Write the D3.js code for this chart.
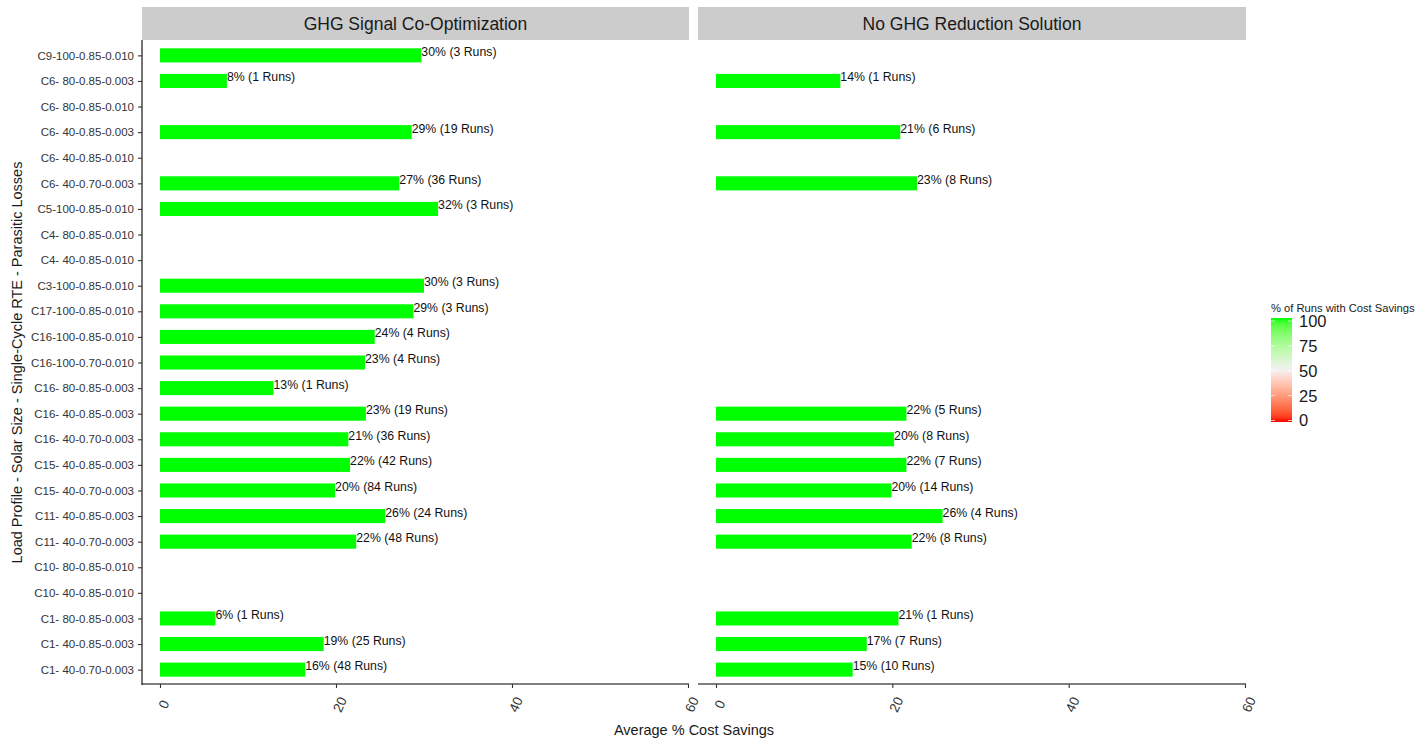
<!DOCTYPE html>
<html>
<head>
<meta charset="utf-8">
<script src="https://cdn.jsdelivr.net/npm/d3@7/dist/d3.min.js"></script>
<style>
  html, body { margin: 0; padding: 0; background: #ffffff; }
  svg { display: block; font-family: "Liberation Sans", Arial, sans-serif; }
</style>
</head>
<body>
<svg id="chart" width="1418" height="744"></svg>
<script>
// ---------------- DATA ----------------
const categories = [
  "C9-100-0.85-0.010",
  "C6- 80-0.85-0.003",
  "C6- 80-0.85-0.010",
  "C6- 40-0.85-0.003",
  "C6- 40-0.85-0.010",
  "C6- 40-0.70-0.003",
  "C5-100-0.85-0.010",
  "C4- 80-0.85-0.010",
  "C4- 40-0.85-0.010",
  "C3-100-0.85-0.010",
  "C17-100-0.85-0.010",
  "C16-100-0.85-0.010",
  "C16-100-0.70-0.010",
  "C16- 80-0.85-0.003",
  "C16- 40-0.85-0.003",
  "C16- 40-0.70-0.003",
  "C15- 40-0.85-0.003",
  "C15- 40-0.70-0.003",
  "C11- 40-0.85-0.003",
  "C11- 40-0.70-0.003",
  "C10- 80-0.85-0.010",
  "C10- 40-0.85-0.010",
  "C1- 80-0.85-0.003",
  "C1- 40-0.85-0.003",
  "C1- 40-0.70-0.003"
];
const panelTitles = ["GHG Signal Co-Optimization", "No GHG Reduction Solution"];

// Average % cost savings (null = no bar)
const ghgSavings = [29.7, 7.6, null, 28.6, null, 27.2, 31.6, null, null, 30.0, 28.8, 24.4, 23.3, 12.9,
                    23.4, 21.4, 21.6, 19.9, 25.6, 22.3, null, null, 6.3, 18.6, 16.5];
const ghgLabelPct = [30, 8, null, 29, null, 27, 32, null, null, 30, 29, 24, 23, 13,
                    23, 21, 22, 20, 26, 22, null, null, 6, 19, 16];
const ghgRuns    = [3, 1, null, 19, null, 36, 3, null, null, 3, 3, 4, 4, 1,
                    19, 36, 42, 84, 24, 48, null, null, 1, 25, 48];
const ghgPctRuns = [100, 100, null, 100, null, 100, 100, null, null, 100, 100, 100, 100, 100,
                    100, 100, 100, 100, 100, 100, null, null, 100, 100, 100];

const noGhgSavings = [null, 14.1, null, 20.9, null, 22.8, null, null, null, null, null, null, null, null,
                      21.6, 20.2, 21.6, 19.9, 25.7, 22.2, null, null, 20.7, 17.1, 15.5];
const noGhgLabelPct = [null, 14, null, 21, null, 23, null, null, null, null, null, null, null, null,
                      22, 20, 22, 20, 26, 22, null, null, 21, 17, 15];
const noGhgRuns    = [null, 1, null, 6, null, 8, null, null, null, null, null, null, null, null,
                      5, 8, 7, 14, 4, 8, null, null, 1, 7, 10];
const noGhgPctRuns = [null, 100, null, 100, null, 100, null, null, null, null, null, null, null, null,
                      100, 100, 100, 100, 100, 100, null, null, 100, 100, 100];

const xTicks = [0, 20, 40, 60];
const legendTicks = [0, 25, 50, 75, 100];
const xTitle = "Average % Cost Savings";
const yTitle = "Load Profile - Solar Size - Single-Cycle RTE - Parasitic Losses";
const legendTitle = "% of Runs with Cost Savings";

// ---------------- LAYOUT ----------------
const svg = d3.select("#chart");
const panelTop = 40, panelBottom = 685;
const stripTop = 7;
const panels = [
  { left: 142, right: 689, savings: ghgSavings, lbl: ghgLabelPct, runs: ghgRuns, pct: ghgPctRuns, title: panelTitles[0], yAxis: true },
  { left: 698, right: 1246, savings: noGhgSavings, lbl: noGhgLabelPct, runs: noGhgRuns, pct: noGhgPctRuns, title: panelTitles[1], yAxis: false }
];

const y = d3.scalePoint().domain(categories).range([panelTop, panelBottom]).padding(0.6);
const barH = y.step() * 0.55;

// colour scale: red -> white -> green, midpoint 50
const colorLow = d3.interpolateLab("#ff0000", "#f2f2f2");
const colorHigh = d3.interpolateLab("#f2f2f2", "#00ff00");
const color = v => v <= 50 ? colorLow(v / 50) : colorHigh((v - 50) / 50);

panels.forEach(p => {
  const x = d3.scaleLinear().domain([0, 60]).range([p.left + 18, p.right - 1]);

  // strip
  svg.append("rect").attr("x", p.left).attr("y", stripTop)
    .attr("width", p.right - p.left).attr("height", panelTop - stripTop)
    .attr("fill", "#cccccc");
  svg.append("text").attr("x", (p.left + p.right) / 2).attr("y", (stripTop + panelTop) / 2 + 6)
    .attr("text-anchor", "middle").attr("font-size", "17.5px").attr("fill", "#1a1a1a")
    .text(p.title);

  const g = svg.append("g");
  const rows = categories.map((c, i) => ({ c, v: p.savings[i], l: p.lbl[i], r: p.runs[i], pct: p.pct[i] }))
    .filter(d => d.v !== null);

  g.selectAll("rect.bar").data(rows).join("rect").attr("class", "bar")
    .attr("x", x(0)).attr("y", d => y(d.c) - barH / 2)
    .attr("width", d => x(d.v) - x(0)).attr("height", barH)
    .attr("fill", d => color(d.pct));

  g.selectAll("text.lbl").data(rows).join("text").attr("class", "lbl")
    .attr("x", d => x(d.v)).attr("y", d => y(d.c) + 0.5)
    .attr("font-size", "12.3px").attr("fill", "#111")
    .text(d => `${d.l}% (${d.r} Runs)`);

  // x axis
  const xAxis = d3.axisBottom(x).tickValues(xTicks).tickSize(4).tickSizeOuter(0).tickFormat(d3.format("d"));
  const ax = svg.append("g").attr("transform", `translate(0,${panelBottom - 1})`).call(xAxis);
  ax.select(".domain").attr("d", `M${p.left},0H${p.right}`).attr("stroke", "#000").attr("stroke-width", 1.1);
  ax.selectAll(".tick line").attr("stroke", "#333").attr("stroke-width", 1.1);
  ax.selectAll(".tick text")
    .attr("font-size", "13.5px").attr("fill", "#333").attr("font-family", "Liberation Sans, Arial, sans-serif")
    .attr("text-anchor", "middle").attr("dy", null).attr("y", 0)
    .attr("transform", "translate(3.5,20.5) rotate(-65)")
    .attr("dominant-baseline", "central");

  if (p.yAxis) {
    const yAxis = d3.axisLeft(y).tickSize(4).tickSizeOuter(0);
    const ay = svg.append("g").attr("transform", `translate(${p.left},0)`).call(yAxis);
    ay.select(".domain").attr("d", `M0,${panelTop}V${panelBottom}`).attr("stroke", "#000").attr("stroke-width", 1.1);
    ay.selectAll(".tick line").attr("stroke", "#333").attr("stroke-width", 1.1);
    ay.selectAll(".tick text").attr("font-size", "11.5px").attr("fill", "#333")
      .attr("font-family", "Liberation Sans, Arial, sans-serif").attr("x", -8);
  }
});

// axis titles
svg.append("text").attr("x", (142 + 1246) / 2).attr("y", 735)
  .attr("text-anchor", "middle").attr("font-size", "14.5px").attr("fill", "#1a1a1a").text(xTitle);
svg.append("text").attr("transform", `translate(22,${(panelTop + panelBottom) / 2}) rotate(-90)`)
  .attr("text-anchor", "middle").attr("font-size", "14.5px").attr("fill", "#1a1a1a").text(yTitle);

// legend
const legX = 1271, legW = 21, legTop = 318, legBottom = 422;
const defs = svg.append("defs");
const grad = defs.append("linearGradient").attr("id", "legGrad")
  .attr("x1", 0).attr("y1", 1).attr("x2", 0).attr("y2", 0);
d3.range(0, 101, 5).forEach(v => {
  grad.append("stop").attr("offset", `${v}%`).attr("stop-color", color(v));
});
const ly = d3.scaleLinear().domain([0, 100]).range([legBottom - 1.5, legTop + 3]);
svg.append("text").attr("x", legX).attr("y", 312).attr("font-size", "11.2px").attr("fill", "#1a1a1a").text(legendTitle);
svg.append("rect").attr("x", legX).attr("y", legTop).attr("width", legW).attr("height", legBottom - legTop)
  .attr("fill", "url(#legGrad)");
const lg = svg.append("g");
lg.selectAll("line.lt").data(legendTicks).join("line").attr("class", "lt")
  .attr("x1", legX).attr("x2", legX + 4).attr("y1", d => ly(d)).attr("y2", d => ly(d))
  .attr("stroke", "#ffffff").attr("stroke-opacity", 0.7);
lg.selectAll("line.rt").data(legendTicks).join("line").attr("class", "rt")
  .attr("x1", legX + legW - 4).attr("x2", legX + legW).attr("y1", d => ly(d)).attr("y2", d => ly(d))
  .attr("stroke", "#ffffff").attr("stroke-opacity", 0.7);
lg.selectAll("text").data(legendTicks).join("text")
  .attr("x", 1299).attr("y", d => ly(d)).attr("dy", "0.36em")
  .attr("font-size", "16.5px").attr("fill", "#1a1a1a").text(d => d);
</script>
</body>
</html>
